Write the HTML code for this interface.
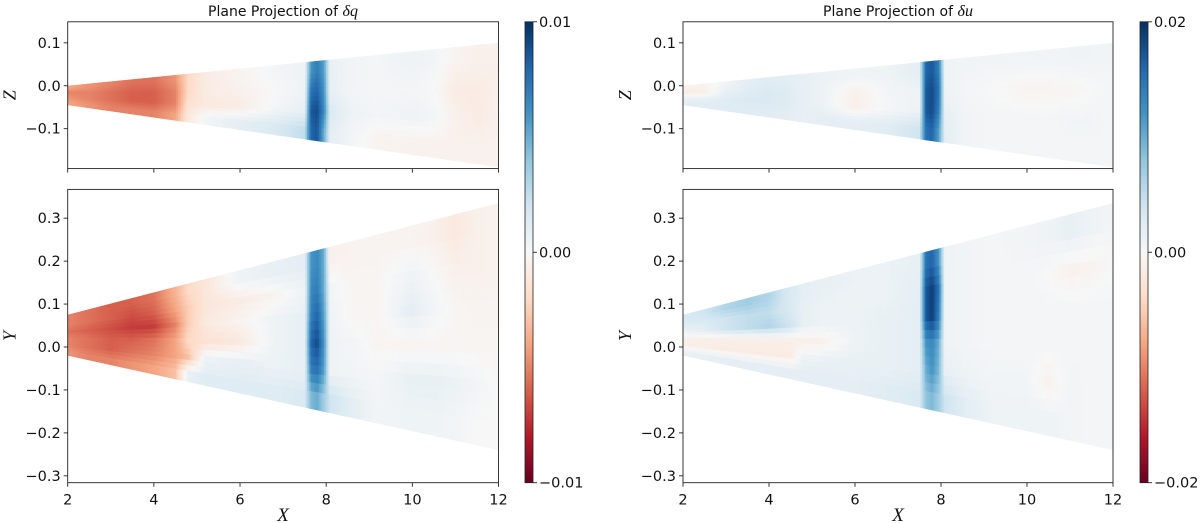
<!DOCTYPE html>
<html><head><meta charset="utf-8"><style>
html,body{margin:0;padding:0;background:#fff;}
svg{display:block;font-family:"DejaVu Sans","Liberation Sans",sans-serif;}
</style></head><body>
<svg id="fig" width="1200" height="523" viewBox="0 0 1200 523" xmlns="http://www.w3.org/2000/svg">
<defs></defs>
</svg>
<script>
// ---- data ----
const xCols = [2,2.5,3,3.5,4,4.5,4.8,5.2,6,6.8,7.5,7.66,7.8,7.95,8.1,8.6,9.2,10,10.5,11,11.5,12];
const zTicks = [-0.1,0.0,0.1];
const yTicks = [-0.3,-0.2,-0.1,0.0,0.1,0.2,0.3];
const xTicks = [2,4,6,8,10,12];
const qTopRows = [
[-0.4,-0.45,-0.5,-0.55,-0.55,-0.45,-0.2,-0.08,-0.03,0.02,0.05,0.6,0.7,0.55,0.08,0.03,0.02,0.05,0.03,-0.03,-0.05,-0.05],
[-0.5,-0.5,-0.55,-0.6,-0.6,-0.5,-0.2,-0.08,-0.05,0.0,0.05,0.75,0.8,0.6,0.08,0.03,0.02,0.02,0.0,-0.08,-0.08,-0.06],
[-0.45,-0.5,-0.55,-0.6,-0.6,-0.5,-0.15,-0.1,-0.08,0.02,0.08,0.85,0.9,0.65,0.15,0.05,0.03,0.05,0.03,-0.05,-0.08,-0.05],
[-0.4,-0.45,-0.5,-0.5,-0.5,-0.4,-0.1,0.03,0.1,0.15,0.25,0.8,0.85,0.5,0.1,0.03,-0.03,-0.04,-0.04,-0.04,-0.04,-0.04]];
const qBotRows = [
[-0.5,-0.55,-0.6,-0.6,-0.55,-0.35,-0.2,-0.12,0.05,0.08,0.1,0.6,0.65,0.5,-0.05,-0.03,-0.03,-0.03,-0.05,-0.1,-0.05,-0.04],
[-0.5,-0.55,-0.6,-0.65,-0.6,-0.4,-0.25,-0.12,-0.08,-0.03,0.05,0.65,0.7,0.5,0.03,-0.02,-0.02,0.05,0.0,-0.05,-0.05,-0.04],
[-0.55,-0.6,-0.65,-0.7,-0.7,-0.5,-0.25,-0.1,-0.03,0.05,0.08,0.7,0.8,0.55,0.05,-0.02,-0.02,0.1,0.03,-0.02,-0.03,-0.03],
[-0.5,-0.55,-0.6,-0.6,-0.55,-0.4,-0.2,-0.15,-0.1,0.05,0.08,0.8,0.9,0.6,0.05,0.03,-0.02,-0.02,-0.02,-0.02,-0.02,-0.02],
[-0.5,-0.55,-0.6,-0.55,-0.5,-0.4,-0.3,0.05,0.08,0.06,0.08,0.7,0.75,0.55,0.05,0.03,0.02,0.08,0.08,0.06,0.03,0.0],
[-0.45,-0.5,-0.5,-0.45,-0.4,-0.3,0.08,0.12,0.12,0.12,0.15,0.45,0.5,0.35,0.2,0.1,0.03,0.05,0.05,0.03,0.0,0.0]];
const uTopRows = [
[-0.05,-0.04,0.05,0.1,0.12,0.1,0.08,0.06,0.04,0.05,0.1,0.8,0.85,0.7,0.05,0.03,0.03,0.03,0.03,0.04,0.04,0.03],
[-0.08,-0.06,0.08,0.12,0.15,0.12,0.08,0.06,-0.05,0.03,0.05,0.85,0.9,0.75,0.05,0.02,0.0,-0.03,-0.03,-0.02,0.0,0.02],
[0.05,0.08,0.12,0.15,0.15,0.12,0.08,0.06,-0.06,0.02,0.05,0.85,0.9,0.7,0.08,0.03,0.02,0.02,0.02,0.03,0.03,0.02],
[0.1,0.12,0.12,0.12,0.12,0.1,0.08,0.1,0.1,0.12,0.2,0.75,0.8,0.55,0.1,0.03,0.02,0.02,0.02,0.02,0.02,0.02]];
const uBotRows = [
[0.15,0.2,0.3,0.35,0.3,0.15,0.1,0.08,0.06,0.06,0.08,0.75,0.8,0.6,0.05,0.03,0.02,0.03,0.05,0.08,0.05,0.03],
[0.12,0.15,0.2,0.25,0.25,0.15,0.08,0.06,0.05,0.06,0.1,0.85,0.95,0.75,0.05,0.03,0.02,0.02,0.0,-0.04,-0.03,0.0],
[0.05,0.1,0.2,0.25,0.3,0.2,0.08,0.06,0.06,0.08,0.1,0.85,0.95,0.7,0.05,0.03,0.02,0.02,0.02,0.02,0.02,0.02],
[-0.05,-0.06,-0.06,-0.06,-0.06,-0.06,-0.06,-0.05,0.05,0.08,0.1,0.6,0.65,0.5,0.05,0.03,0.02,0.02,0.02,0.02,0.02,0.02],
[-0.06,-0.06,-0.08,-0.08,-0.08,-0.08,0.05,0.06,0.08,0.08,0.1,0.5,0.6,0.45,0.08,0.05,0.03,0.03,-0.04,0.03,0.02,0.02],
[0.08,0.08,0.1,0.1,0.1,0.1,0.1,0.1,0.1,0.12,0.15,0.4,0.45,0.35,0.2,0.1,0.05,0.05,0.05,0.03,0.02,0.02]];
const qCbarLabels = ["0.01","0.00","\u22120.01"];
const uCbarLabels = ["0.02","0.00","\u22120.02"];

// ---- helpers ----
const NS="http://www.w3.org/2000/svg";
const svg=document.getElementById('fig');
function mk(tag,attrs,parent){const e=document.createElementNS(NS,tag);for(const k in attrs)e.setAttribute(k,attrs[k]);(parent||svg).appendChild(e);return e;}
const cmapStops=["#67001f","#b2182b","#d6604d","#f4a582","#fddbc7","#f7f7f7","#d1e5f0","#92c5de","#4393c3","#2166ac","#053061"];
function hex(h){return [parseInt(h.substr(1,2),16),parseInt(h.substr(3,2),16),parseInt(h.substr(5,2),16)];}
function cmap(v){v=Math.max(-1,Math.min(1,v));const t=(v+1)/2*10;const i=Math.min(9,Math.floor(t));const f=t-i;const a=hex(cmapStops[i]),b=hex(cmapStops[i+1]);return `rgb(${a.map((c,k)=>Math.round(c+(b[k]-c)*f)).join(',')})`;}

function sample(rows,x,f){
  const n=rows.length;
  let i=0; while(i<xCols.length-2 && x>xCols[i+1]) i++;
  let tx=(x-xCols[i])/(xCols[i+1]-xCols[i]); tx=Math.max(0,Math.min(1,tx));
  let r=f*n-0.5; let j=Math.floor(r); let ty=r-j;
  if(j<0){j=0;ty=0;} if(j>n-2){j=n-2;ty=1;}
  const a=rows[j][i]*(1-tx)+rows[j][i+1]*tx;
  const b=rows[j+1][i]*(1-tx)+rows[j+1][i+1]*tx;
  return a*(1-ty)+b*ty;
}

let clipId=0;
function panel(o){
  const {x0,x1,y0,y1,ymin,ymax,rows,topEdge,botEdge,ticks,yLabel,xLabels,name}=o;
  const sx=x=>x0+(x-2)/10*(x1-x0);
  const sy=y=>y1-(y-ymin)/(ymax-ymin)*(y1-y0);
  const g=mk('g',{});
  
  
  const cid='clip'+(clipId++);
  const cp=mk('clipPath',{id:cid},svg.querySelector('defs'));
  mk('path',{d:`M${sx(2)},${sy(topEdge(2))} L${sx(12)},${sy(topEdge(12))} L${sx(12)},${sy(botEdge(12))} L${sx(2)},${sy(botEdge(2))} Z`},cp);
  const outer=mk('g',{'clip-path':`url(#${cid})`},g);
  const NX=250, NF=18;
  const pt=(x,f)=>{const t=topEdge(x),b=botEdge(x);return [sx(x).toFixed(1),sy(t+(b-t)*f).toFixed(1)];};
  for(let j=0;j<NF;j++){
    const fa=j/NF,fb=(j+1)/NF,fm=(j+0.5)/NF;
    for(let i=0;i<NX;i++){
      const xa=2+10*i/NX, xb=2+10*(i+1)/NX, xm=(xa+xb)/2;
      const col=cmap(sample(rows,xm,fm));
      const c=mk('polygon',{points:`${pt(xa,fa)} ${pt(xb,fa)} ${pt(xb,fb)} ${pt(xa,fb)}`,fill:col,stroke:col,'stroke-width':0.5},outer);
      
      
    }
  }
  const fr=mk('rect',{x:x0,y:y0,width:x1-x0,height:y1-y0,fill:'none',stroke:'#222','stroke-width':0.9},g);
  
  
  ticks.forEach(t=>{
    const y=sy(t);
    mk('line',{x1:x0-4,x2:x0,y1:y,y2:y,stroke:'#222','stroke-width':0.9},g);
    const tx=mk('text',{x:x0-7,y:y+5,'text-anchor':'end','font-size':14.5,fill:'#111'},g);
    tx.textContent=(t<0?'\u2212':'')+Math.abs(t).toFixed(1);
    
    
  });
  xTicks.forEach(t=>{
    const x=sx(t);
    mk('line',{x1:x,x2:x,y1:y1,y2:y1+4,stroke:'#222','stroke-width':0.9},g);
    if(xLabels){
      const tx=mk('text',{x:x,y:y1+22,'text-anchor':'middle','font-size':14.5,fill:'#111'},g);
      tx.textContent=t;
      
      
    }
  });
  const yl=mk('text',{x:0,y:0,transform:`translate(${x0-52},${(y0+y1)/2}) rotate(-90)`,'text-anchor':'middle','font-size':18,'font-style':'italic','font-family':'"Liberation Serif",serif',fill:'#111'},g);
  yl.textContent=yLabel;
  
  
  if(xLabels){
    const xl=mk('text',{x:(x0+x1)/2,y:521,'text-anchor':'middle','font-size':19,'font-style':'italic','font-family':'"Liberation Serif",serif',fill:'#111'},g);
    xl.textContent='X';
    
    
  }
}
function cbar(cx,labels,name){
  const y0=21.8,y1=482.7,w=8;
  const gid='grad'+name;
  const lg=mk('linearGradient',{id:gid,x1:0,y1:1,x2:0,y2:0},svg.querySelector('defs'));
  cmapStops.forEach((c,i)=>mk('stop',{offset:(i/10),'stop-color':c},lg));
  const g=mk('g',{});
  
  
  mk('rect',{x:cx,y:y0,width:w,height:y1-y0,fill:`url(#${gid})`,stroke:'#222','stroke-width':0.8},g);
  labels.forEach((l,i)=>{
    const y=y0+i*(y1-y0)/2;
    mk('line',{x1:cx+w,x2:cx+w+4,y1:y,y2:y,stroke:'#222','stroke-width':0.9},g);
    const t=mk('text',{x:cx+w+6,y:y+5,'font-size':14.5,fill:'#111'},g);
    t.textContent=l;
    
    
  });
}
function title(x,sym,name){
  const t=mk('text',{x:x,y:16,'text-anchor':'middle','font-size':14,fill:'#111'});
  
  
  t.appendChild(document.createTextNode('Plane Projection of '));
  const s=mk('tspan',{'font-style':'italic','font-family':'"Liberation Serif",serif','font-size':16},t);
  s.textContent=sym;
}
const zTop=x=>0.0+0.0100*(x-2), zBot=x=>-0.045-0.0145*(x-2);
const yTop=x=>0.075+0.026*(x-2), yBot=x=>-0.02-0.022*(x-2);
const L={x0:67.7,x1:498.5}, R={x0:683,x1:1113};
panel({...L,y0:21.8,y1:168.6,ymin:-0.193,ymax:0.149,rows:qTopRows,topEdge:zTop,botEdge:zBot,ticks:zTicks,yLabel:'Z',xLabels:false,name:'dq-xz-panel'});
panel({...L,y0:189.4,y1:482.7,ymin:-0.316,ymax:0.367,rows:qBotRows,topEdge:yTop,botEdge:yBot,ticks:yTicks,yLabel:'Y',xLabels:true,name:'dq-xy-panel'});
panel({...R,y0:21.8,y1:168.6,ymin:-0.193,ymax:0.149,rows:uTopRows,topEdge:zTop,botEdge:zBot,ticks:zTicks,yLabel:'Z',xLabels:false,name:'du-xz-panel'});
panel({...R,y0:189.4,y1:482.7,ymin:-0.316,ymax:0.367,rows:uBotRows,topEdge:yTop,botEdge:yBot,ticks:yTicks,yLabel:'Y',xLabels:true,name:'du-xy-panel'});
cbar(525,qCbarLabels,'dq-colorbar');
cbar(1140,uCbarLabels,'du-colorbar');
title(283,'\u03b4q','dq-title');
title(898,'\u03b4u','du-title');
</script>
</body></html>
